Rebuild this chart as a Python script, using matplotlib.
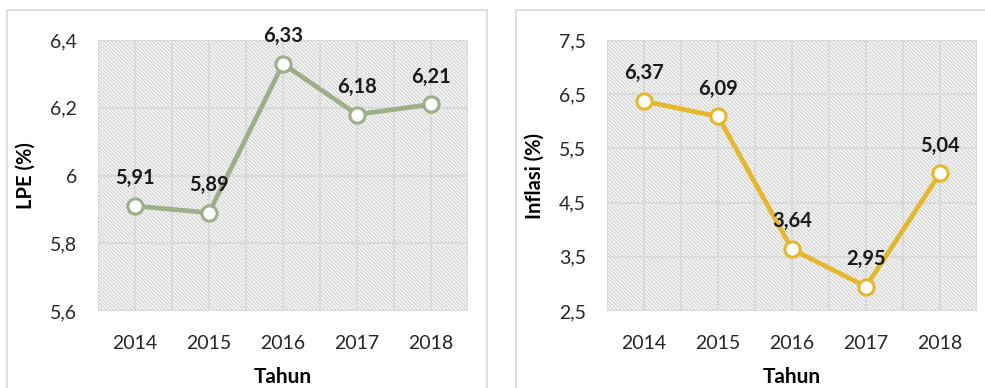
import matplotlib.pyplot as plt
from matplotlib.patches import Rectangle
from matplotlib.ticker import FuncFormatter

plt.rcParams['font.family'] = ['Lato', 'DejaVu Sans']
plt.rcParams['hatch.linewidth'] = 1.1

years = ['2014', '2015', '2016', '2017', '2018']
lpe = [5.91, 5.89, 6.33, 6.18, 6.21]
inflasi = [6.37, 6.09, 3.64, 2.95, 5.04]

lpe_ticks = [5.6, 5.8, 6.0, 6.2, 6.4]
inflasi_ticks = [2.5, 3.5, 4.5, 5.5, 6.5, 7.5]

GRID = '#d9d9d9'


def comma(v, _=None):
    s = f'{v:.2f}'.rstrip('0').rstrip('.')
    return s.replace('.', ',')


def draw_panel(ax, values, yticks, ylabel, color):
    x = range(len(values))
    # striped plot background
    ax.add_patch(Rectangle((0, 0), 1, 1, transform=ax.transAxes,
                           facecolor='white', edgecolor='#d6d6d6',
                           hatch='\\' * 9, lw=0, zorder=0))
    ax.set_xlim(-0.5, len(values) - 0.5)
    ax.set_ylim(yticks[0], yticks[-1])
    ax.set_xticks(list(x))
    ax.set_xticks([i - 0.5 for i in range(len(values) + 1)], minor=True)
    ax.set_xticklabels(years)
    ax.set_yticks(yticks)
    ax.yaxis.set_major_formatter(FuncFormatter(comma))
    ax.grid(True, which='both', axis='x', color=GRID, lw=1.5, zorder=1)
    ax.grid(True, which='major', axis='y', color=GRID, lw=1.5, zorder=1)
    ax.set_axisbelow(True)
    for s in ax.spines.values():
        s.set_visible(False)
    ax.tick_params(which='both', length=0, labelsize=14, colors='#262626')
    ax.tick_params(axis='x', pad=17)
    ax.tick_params(axis='y', pad=15)

    ax.plot(list(x), values, color=color, lw=3.4, marker='o', ms=11,
            mfc='white', mec=color, mew=2.2, zorder=3, clip_on=False)
    for i, v in zip(x, values):
        ax.annotate(comma(v), (i, v), xytext=(0, 20), textcoords='offset points',
                    ha='center', va='center', fontsize=14.5, fontweight='bold',
                    color='#1a1a1a', zorder=4, annotation_clip=False)

    ax.set_xlabel('Tahun', fontsize=15, fontweight='bold', labelpad=11)
    ax.set_ylabel(ylabel, fontsize=14.5, fontweight='bold', labelpad=10)


fig = plt.figure(figsize=(9.85, 3.88), dpi=100)

# chart area frames
fig.patches.append(Rectangle((7 / 985, -0.1), 480 / 985, 1.1 - 10 / 388,
                             transform=fig.transFigure, fill=False,
                             edgecolor=GRID, lw=1.2))
fig.patches.append(Rectangle((516 / 985, -0.1), 0.6, 1.1 - 10 / 388,
                             transform=fig.transFigure, fill=False,
                             edgecolor=GRID, lw=1.2))

ax1 = fig.add_axes([98 / 985, 1 - 311 / 388, 370 / 985, 271 / 388])
ax2 = fig.add_axes([607 / 985, 1 - 311 / 388, 370 / 985, 271 / 388])

draw_panel(ax1, lpe, lpe_ticks, 'LPE (%)', '#9caf88')
draw_panel(ax2, inflasi, inflasi_ticks, 'Inflasi (%)', '#e5b829')

fig.savefig('out.png', dpi=100)
